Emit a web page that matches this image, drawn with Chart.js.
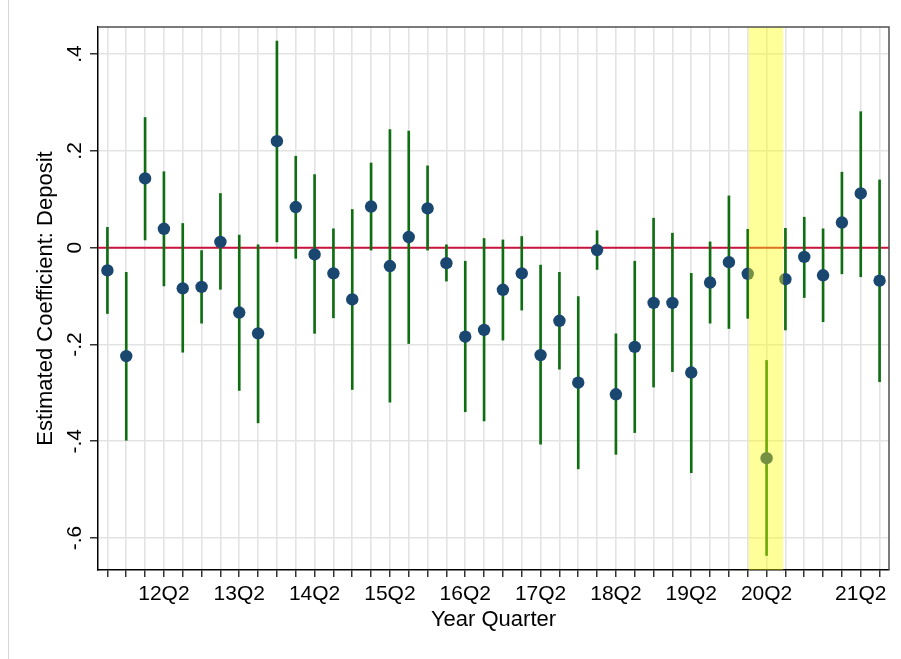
<!DOCTYPE html>
<html>
<head>
<meta charset="utf-8">
<title>Estimated Coefficient: Deposit</title>
<script src="https://cdn.jsdelivr.net/npm/chart.js@4.4.1/dist/chart.umd.min.js"></script>
<style>
    html, body { margin: 0; padding: 0; background: #fff; }
    #wrap { position: relative; width: 901px; height: 659px; overflow: hidden; }
    #frameLine { position: absolute; left: 8px; top: 0; width: 1px; height: 659px; background: #d6d6d6; }
    #coefChart { position: absolute; left: 0; top: 0; }
</style>
</head>
<body>
<div id="wrap">
    <div id="frameLine"></div>
    <canvas id="coefChart" width="901" height="659"></canvas>
</div>
<script>
// one entry per estimated quarter (only some are labelled on the axis)
const quarterLabels = [
    "", "", "", "12Q2", "", "", "", "13Q2", "", "", "", "14Q2", "", "", "", "15Q2",
    "", "", "", "16Q2", "", "", "", "17Q2", "", "", "", "18Q2", "", "", "", "19Q2",
    "", "", "", "20Q2", "", "", "", "", "21Q2", ""
];

// point estimates
const coef = [
    -0.047, -0.224, 0.143, 0.039, -0.084, -0.081, 0.012, -0.134, -0.177, 0.220,
    0.084, -0.014, -0.053, -0.107, 0.085, -0.038, 0.022, 0.081, -0.032, -0.184,
    -0.170, -0.087, -0.053, -0.222, -0.151, -0.279, -0.005, -0.303, -0.205, -0.114,
    -0.114, -0.258, -0.072, -0.030, -0.054, -0.435, -0.065, -0.019, -0.057, 0.052,
    0.112, -0.068
];

// confidence interval bounds
const ciHigh = [
    0.042, -0.051, 0.269, 0.157, 0.050, -0.006, 0.112, 0.026, 0.006, 0.427,
    0.189, 0.151, 0.039, 0.079, 0.175, 0.244, 0.241, 0.169, 0.006, -0.028,
    0.019, 0.016, 0.023, -0.036, -0.051, -0.101, 0.035, -0.178, -0.028, 0.061,
    0.030, -0.053, 0.012, 0.107, 0.038, -0.233, 0.040, 0.063, 0.039, 0.156,
    0.281, 0.140
];
const ciLow = [
    -0.136, -0.398, 0.016, -0.079, -0.216, -0.156, -0.086, -0.295, -0.362, 0.012,
    -0.022, -0.177, -0.145, -0.293, -0.005, -0.319, -0.198, -0.005, -0.069, -0.339,
    -0.358, -0.191, -0.129, -0.406, -0.251, -0.457, -0.045, -0.427, -0.382, -0.288,
    -0.256, -0.465, -0.156, -0.167, -0.146, -0.636, -0.170, -0.103, -0.153, -0.054,
    -0.060, -0.277
];

const yTicks = [-0.6, -0.4, -0.2, 0, 0.2, 0.4];

// shaded covid window, in quarter positions
const bandFrom = 34.05;
const bandTo = 35.88;

const FONT = "'Liberation Sans', Arial, Helvetica, sans-serif";

function stataLabel(v) {
    if (Math.abs(v) < 1e-9) return "0";
    return String(Number(v.toFixed(1))).replace("0.", ".");
}

const decorations = {
    id: "decorations",
    beforeDatasetsDraw(chart) {
        const { ctx, chartArea: a, scales: { y } } = chart;
        const y0 = y.getPixelForValue(0);
        ctx.save();
        ctx.strokeStyle = "#c8143c";
        ctx.lineWidth = 2;
        ctx.beginPath();
        ctx.moveTo(a.left, y0);
        ctx.lineTo(a.right, y0);
        ctx.stroke();
        ctx.restore();
    },
    afterDatasetsDraw(chart) {
        const { ctx, chartArea: a, scales: { x } } = chart;
        const x0 = x.getPixelForValue(0);
        const step = x.getPixelForValue(1) - x0;
        ctx.save();
        // highlight band sits on top of the marks
        ctx.fillStyle = "rgba(255, 255, 0, 0.4)";
        const bx = x0 + bandFrom * step;
        ctx.fillRect(bx, a.top, (bandTo - bandFrom) * step, a.bottom - a.top);
        // top and right frame
        ctx.strokeStyle = "#505050";
        ctx.lineWidth = 1.5;
        ctx.beginPath();
        ctx.moveTo(a.left, a.top);
        ctx.lineTo(a.right, a.top);
        ctx.lineTo(a.right, a.bottom);
        ctx.stroke();
        ctx.restore();
    },
    afterDraw(chart) {
        // y tick labels are vertical, like the Stata original
        const { ctx, scales: { y } } = chart;
        ctx.save();
        ctx.fillStyle = "#000";
        ctx.font = "21px " + FONT;
        ctx.textAlign = "center";
        ctx.textBaseline = "alphabetic";
        y.ticks.forEach(t => {
            const py = y.getPixelForValue(t.value);
            ctx.save();
            ctx.translate(80.5, py);
            ctx.rotate(-Math.PI / 2);
            ctx.fillText(stataLabel(t.value), 0, 0);
            ctx.restore();
        });
        ctx.restore();
    }
};

document.addEventListener("DOMContentLoaded", () => {
    new Chart(document.getElementById("coefChart").getContext("2d"), {
        type: "bar",
        data: {
            labels: quarterLabels,
            datasets: [
                {
                    type: "line",
                    label: "Coefficient",
                    data: coef,
                    showLine: false,
                    pointRadius: 6.2,
                    pointHoverRadius: 6.2,
                    pointBackgroundColor: "#1a476f",
                    pointBorderWidth: 0,
                    order: 0
                },
                {
                    label: "95% CI",
                    data: ciLow.map((lo, i) => [lo, ciHigh[i]]),
                    backgroundColor: "#0f6e12",
                    barThickness: 2,
                    borderWidth: 0,
                    order: 1
                }
            ]
        },
        options: {
            responsive: false,
            animation: false,
            events: [],
            layout: { padding: { left: 0, top: 27, right: 12, bottom: 0 } },
            plugins: { legend: { display: false }, tooltip: { enabled: false } },
            scales: {
                x: {
                    offset: true,
                    grid: { offset: false, color: "#e3e3e3", lineWidth: 1.6, tickColor: "#000", tickLength: 7, tickWidth: 1.2 },
                    border: { color: "#000", width: 1.5 },
                    ticks: {
                        autoSkip: false, maxRotation: 0, minRotation: 0, padding: 5,
                        color: "#000", font: { family: FONT, size: 21 }
                    },
                    title: {
                        display: true, text: "Year Quarter", color: "#000",
                        font: { family: FONT, size: 22 }, padding: { top: 0, bottom: 26 }
                    },
                    afterFit(scale) { scale.height = 89; }
                },
                y: {
                    min: -0.666,
                    max: 0.456,
                    afterBuildTicks(scale) { scale.ticks = yTicks.map(v => ({ value: v })); },
                    grid: { color: "#e3e3e3", lineWidth: 1.6, tickColor: "#000", tickLength: 8, tickWidth: 1.2 },
                    border: { color: "#000", width: 1.5 },
                    ticks: { display: false },
                    title: {
                        display: true, text: "Estimated Coefficient: Deposit", color: "#000",
                        font: { family: FONT, size: 22 }, padding: { top: 33, bottom: 0 }
                    },
                    afterFit(scale) { scale.width = 98; }
                }
            }
        },
        plugins: [decorations]
    });
});
</script>
</body>
</html>
